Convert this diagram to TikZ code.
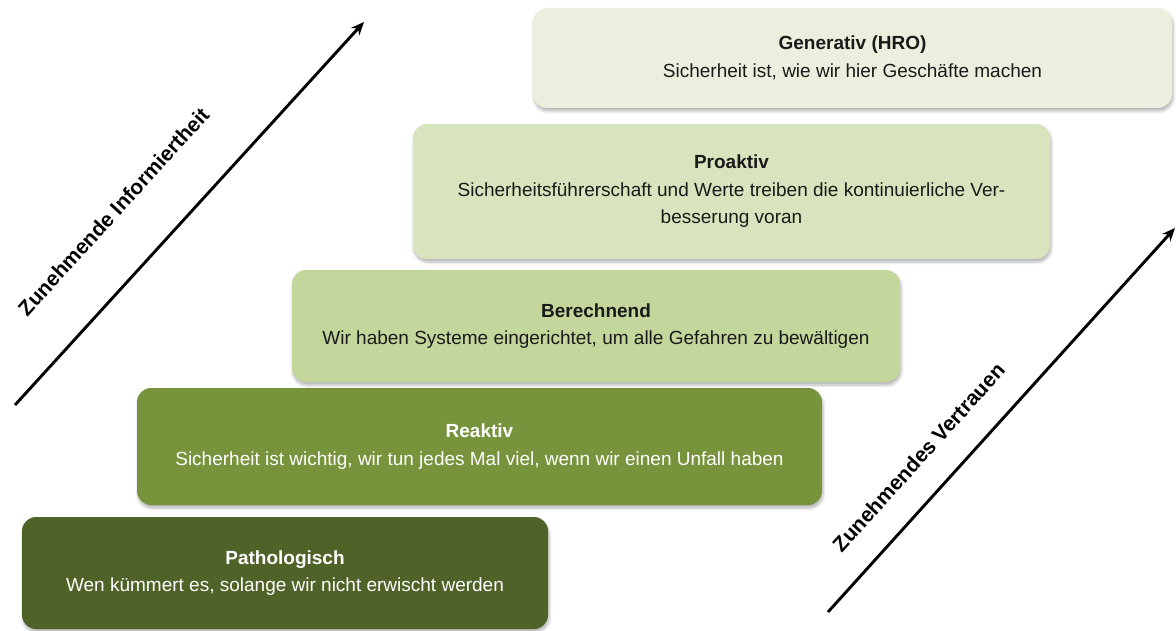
\documentclass[tikz,border=0pt]{standalone}
\usepackage{fontspec}
\setmainfont{Liberation Sans}
\usetikzlibrary{shadows.blur,arrows.meta}

\definecolor{lvlPatho}{HTML}{4F6228}
\definecolor{lvlReak}{HTML}{77933C}
\definecolor{lvlBerech}{HTML}{C3D69B}
\definecolor{lvlProak}{HTML}{D7E4BD}
\definecolor{lvlGener}{HTML}{EBF0DE}
\definecolor{darktext}{HTML}{1A1A1A}

\tikzset{
  level/.style={rounded corners=14pt, inner sep=0pt, align=center,
    font=\fontsize{19}{27.5}\selectfont,
    blur shadow={shadow xshift=1pt, shadow yshift=-3pt,
      shadow blur steps=6, shadow blur radius=3pt, shadow opacity=30}},
  darklevel/.style={level, text=white},
  lightlevel/.style={level, text=darktext},
  axisarrow/.style={-{Stealth[length=13pt,width=11pt]}, line width=2.9pt, black},
  axislabel/.style={font=\fontsize{21}{24}\selectfont\bfseries, sloped,
    inner sep=0pt, anchor=base}
}

\begin{document}
\begin{tikzpicture}[x=1pt,y=-1pt]
\useasboundingbox (0,0) rectangle (1176,631);

% the five maturity levels, from the bottom step to the top step
\node[darklevel, fill=lvlPatho, minimum width=526pt, minimum height=112pt]
  (patho) at (285,573) {\textbf{Pathologisch}\\Wen kümmert es, solange wir nicht erwischt werden};
\node[darklevel, fill=lvlReak, minimum width=685pt, minimum height=117pt]
  (reak) at (479.5,446.5) {\textbf{Reaktiv}\\Sicherheit ist wichtig, wir tun jedes Mal viel, wenn wir einen Unfall haben};
\node[lightlevel, fill=lvlBerech, minimum width=608pt, minimum height=112pt]
  (berech) at (596,326) {\textbf{Berechnend}\\Wir haben Systeme eingerichtet, um alle Gefahren zu bewältigen};
\node[lightlevel, fill=lvlProak, minimum width=637pt, minimum height=135pt]
  (proak) at (731.5,191.5) {\textbf{Proaktiv}\\Sicherheitsführerschaft und Werte treiben die kontinuierliche Ver-\\besserung voran};
\node[lightlevel, fill=lvlGener, minimum width=639pt, minimum height=100pt]
  (gener) at (852.5,58) {\textbf{Generativ (HRO)}\\Sicherheit ist, wie wir hier Geschäfte machen};

% the two rising axes
\coordinate (infoTail) at (15,405);
\coordinate (infoHead) at (364,22);
\coordinate (trustTail) at (828,612);
\coordinate (trustHead) at (1175,228);

\draw[axisarrow] (infoTail) -- (infoHead)
  node[axislabel, pos=0.404, yshift=50pt] (infoLabel) {Zunehmende Informiertheit};
\draw[axisarrow] (trustTail) -- (trustHead)
  node[axislabel, pos=0.339, yshift=29pt] (trustLabel) {Zunehmendes Vertrauen};
\end{tikzpicture}
\end{document}
